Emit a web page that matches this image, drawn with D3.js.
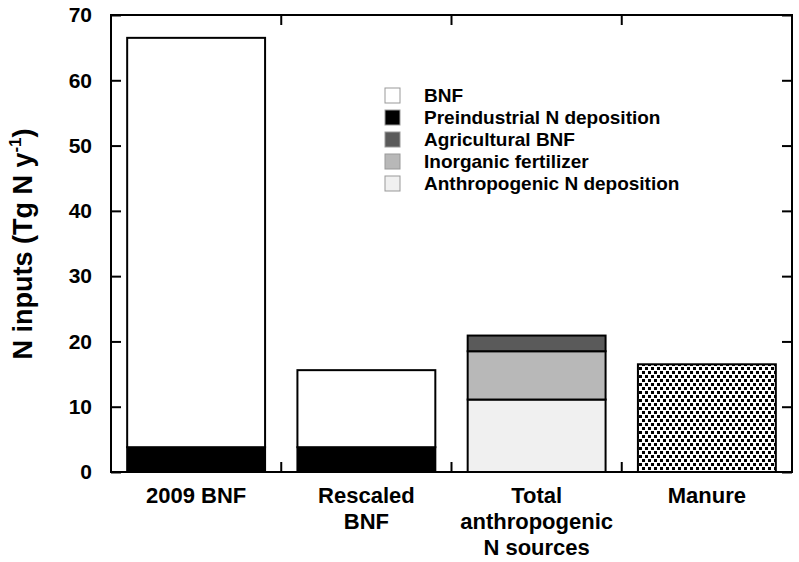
<!DOCTYPE html>
<html>
<head>
<meta charset="utf-8">
<script src="https://cdn.jsdelivr.net/npm/d3@7"></script>
<style>
  body { margin: 0; background: #fff; }
  text { font-family: "Liberation Sans", Arial, sans-serif; font-weight: bold; }
</style>
</head>
<body>
<div id="chart"></div>
<script>
// categories and stacked values (Tg N / yr)
var categories = ["2009 BNF", "Rescaled BNF", "Total anthropogenic N sources", "Manure"];
var catLines = [["2009 BNF"], ["Rescaled", "BNF"], ["Total", "anthropogenic", "N sources"], ["Manure"]];
var preindDep = [3.8, 3.8, 0, 0];
var bnf = [62.7, 11.8, 0, 0];
var anthroDep = [0, 0, 11.1, 0];
var inorgFert = [0, 0, 7.4, 0];
var agriBnf = [0, 0, 2.4, 0];
var manure = [0, 0, 0, 16.5];
var yTicks = [0, 10, 20, 30, 40, 50, 60, 70];

var series = [
  { key: "Preindustrial N deposition", values: preindDep, fill: "#000000" },
  { key: "BNF", values: bnf, fill: "#ffffff" },
  { key: "Anthropogenic N deposition", values: anthroDep, fill: "#f0f0f0" },
  { key: "Inorganic fertilizer", values: inorgFert, fill: "#b8b8b8" },
  { key: "Agricultural BNF", values: agriBnf, fill: "#5a5a5a" },
  { key: "Manure", values: manure, fill: "url(#dots)" }
];
var legendKeys = ["BNF", "Preindustrial N deposition", "Agricultural BNF", "Inorganic fertilizer", "Anthropogenic N deposition"];

var margin = { top: 15, right: 7, bottom: 90, left: 111 };
var width = 799 - margin.left - margin.right;
var height = 562 - margin.top - margin.bottom;

var svg = d3.select("#chart").append("svg")
    .attr("width", 799)
    .attr("height", 562);

// dotted fill for manure
var pat = svg.append("defs").append("pattern")
    .attr("id", "dots")
    .attr("patternUnits", "userSpaceOnUse")
    .attr("width", 6).attr("height", 8);
pat.append("rect").attr("width", 6).attr("height", 8).attr("fill", "#fff");
pat.append("rect").attr("x", 0).attr("y", 0).attr("width", 3).attr("height", 3).attr("fill", "#000");
pat.append("rect").attr("x", 3).attr("y", 4).attr("width", 3).attr("height", 3).attr("fill", "#000");

var g = svg.append("g")
    .attr("transform", "translate(" + margin.left + "," + margin.top + ")");

var x = d3.scaleBand()
    .domain(categories)
    .range([0, width])
    .paddingInner(0.19)
    .paddingOuter(0.095);

var y = d3.scaleLinear()
    .domain([0, 70])
    .range([height, 0]);

// stacked bars
var stackData = categories.map(function (c, i) {
  var o = { cat: c };
  series.forEach(function (s) { o[s.key] = s.values[i]; });
  return o;
});
var stack = d3.stack().keys(series.map(function (s) { return s.key; }));
var layers = stack(stackData);

layers.forEach(function (layer, li) {
  g.append("g")
    .selectAll("rect")
    .data(layer.filter(function (d) { return d[1] - d[0] > 0; }))
    .enter()
    .append("rect")
    .attr("x", function (d) { return x(d.data.cat); })
    .attr("width", x.bandwidth())
    .attr("y", function (d) { return y(d[1]); })
    .attr("height", function (d) { return y(d[0]) - y(d[1]); })
    .attr("fill", series[li].fill)
    .attr("stroke", "#000")
    .attr("stroke-width", 2);
});

// frame
g.append("rect")
    .attr("width", width)
    .attr("height", height)
    .attr("fill", "none")
    .attr("stroke", "#000")
    .attr("stroke-width", 2);

// y axes
var yAxis = g.append("g")
    .call(d3.axisLeft(y).tickValues(yTicks).tickSize(-10).tickPadding(19));
yAxis.select(".domain").remove();
yAxis.selectAll("line").attr("stroke-width", 2);
yAxis.selectAll("text").style("font-size", "21px").attr("fill", "#000");

var yAxisR = g.append("g")
    .attr("transform", "translate(" + width + ",0)")
    .call(d3.axisRight(y).tickValues(yTicks).tickSize(-10).tickFormat(""));
yAxisR.select(".domain").remove();
yAxisR.selectAll("line").attr("stroke-width", 2);

// x ticks at band boundaries
var boundaries = [1, 2, 3].map(function (i) { return i * width / 4; });
g.selectAll(".xtb").data(boundaries).enter().append("line")
    .attr("x1", function (d) { return d; }).attr("x2", function (d) { return d; })
    .attr("y1", height).attr("y2", height - 10)
    .attr("stroke", "#000").attr("stroke-width", 2);
g.selectAll(".xtt").data(boundaries).enter().append("line")
    .attr("x1", function (d) { return d; }).attr("x2", function (d) { return d; })
    .attr("y1", 0).attr("y2", 10)
    .attr("stroke", "#000").attr("stroke-width", 2);

// x labels
categories.forEach(function (c, i) {
  var t = g.append("text")
      .attr("text-anchor", "middle")
      .attr("x", x(c) + x.bandwidth() / 2)
      .attr("y", height + 31)
      .style("font-size", "22px");
  catLines[i].forEach(function (line, j) {
    t.append("tspan")
      .attr("x", x(c) + x.bandwidth() / 2)
      .attr("dy", j === 0 ? 0 : 26)
      .text(line);
  });
});

// y label
var yl = svg.append("text")
    .attr("transform", "translate(32,244) rotate(-90)")
    .attr("text-anchor", "middle")
    .style("font-size", "27px");
yl.append("tspan").text("N inputs (Tg N y");
yl.append("tspan").attr("dy", -11).style("font-size", "17px").text("-1");
yl.append("tspan").attr("dy", 11).text(")");

// legend
var fillOf = {};
series.forEach(function (s) { fillOf[s.key] = s.fill; });
var legend = g.append("g").attr("transform", "translate(274,73)");
legendKeys.forEach(function (k, i) {
  legend.append("rect")
    .attr("x", 0).attr("y", i * 22)
    .attr("width", 15).attr("height", 15)
    .attr("fill", fillOf[k])
    .attr("stroke", "#999").attr("stroke-width", 1);
  legend.append("text")
    .attr("x", 39).attr("y", i * 22 + 14)
    .style("font-size", "19px")
    .text(k);
});
</script>
</body>
</html>
